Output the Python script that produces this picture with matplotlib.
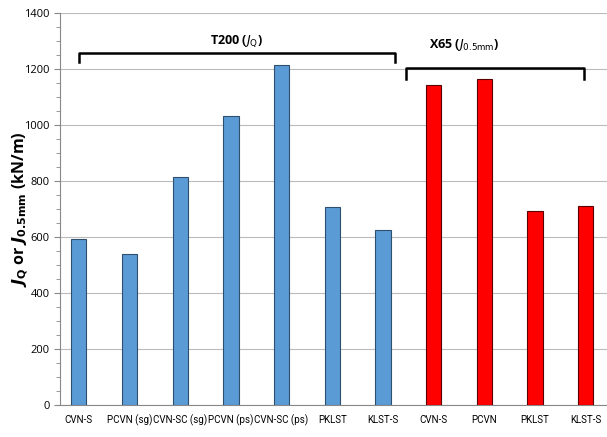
import matplotlib.pyplot as plt
from matplotlib.ticker import MultipleLocator

labels = ['CVN-S', 'PCVN (sg)', 'CVN-SC (sg)', 'PCVN (ps)', 'CVN-SC (ps)', 'PKLST', 'KLST-S',
          'CVN-S', 'PCVN', 'PKLST', 'KLST-S']
t200 = [593, 540, 815, 1032, 1213, 706, 625]
x65 = [1145, 1163, 692, 712]

plt.rcParams['font.family'] = ['Open Sans', 'DejaVu Sans']
fig = plt.figure(figsize=(6.07, 4.37), dpi=100)
ax = fig.add_axes([0.099, 0.073, 0.901, 0.897])

pos = list(range(len(labels)))
ax.bar(pos[:7], t200, width=0.3, color='#5B9BD5', edgecolor='#2F4F6F', linewidth=0.8, zorder=3)
ax.bar(pos[7:], x65, width=0.3, color='#FF0000', edgecolor='#5A0000', linewidth=0.8, zorder=3)

ax.set_ylim(0, 1400)
ax.set_xlim(-0.37, 10.42)
ax.yaxis.set_major_locator(MultipleLocator(200))
ax.yaxis.set_minor_locator(MultipleLocator(50))
ax.grid(axis='y', color='#BBBBBB', linewidth=0.8, zorder=0)
ax.set_xticks(pos)
ax.set_xticklabels(labels, fontsize=7, family=['Roboto', 'DejaVu Sans'])
ax.tick_params(axis='x', length=0, pad=7)
ax.tick_params(axis='y', which='major', labelsize=8, length=4, color='#888888')
ax.tick_params(axis='y', which='minor', length=3, color='#888888')
for s in ['top', 'right']:
    ax.spines[s].set_visible(False)
for s in ['left', 'bottom']:
    ax.spines[s].set_color('#888888')

ax.set_ylabel(r'$\mathbfit{J}_\mathbf{Q}$ or $\mathbfit{J}_\mathbf{0.5mm}$ (kN/m)',
              fontsize=11.5, fontweight='bold')
ax.yaxis.set_label_coords(-0.071, 0.5)
ax.yaxis.label.set_va('center')

# brackets
ax.plot([0, 0, 6.23, 6.23], [1225, 1257, 1257, 1225], color='black', lw=1.8, clip_on=False, zorder=4)
ax.plot([6.45, 6.45, 9.96, 9.96], [1163, 1204, 1204, 1163], color='black', lw=1.8, clip_on=False, zorder=4)
ax.text(3.1, 1300, r'T200 ($\mathit{J}_\mathrm{Q}$)', ha='center', va='center', fontsize=9, fontweight='bold')
ax.text(7.6, 1285, r'X65 ($\mathit{J}_\mathrm{0.5mm}$)', ha='center', va='center', fontsize=9, fontweight='bold')

fig.savefig('out.png', dpi=100)
